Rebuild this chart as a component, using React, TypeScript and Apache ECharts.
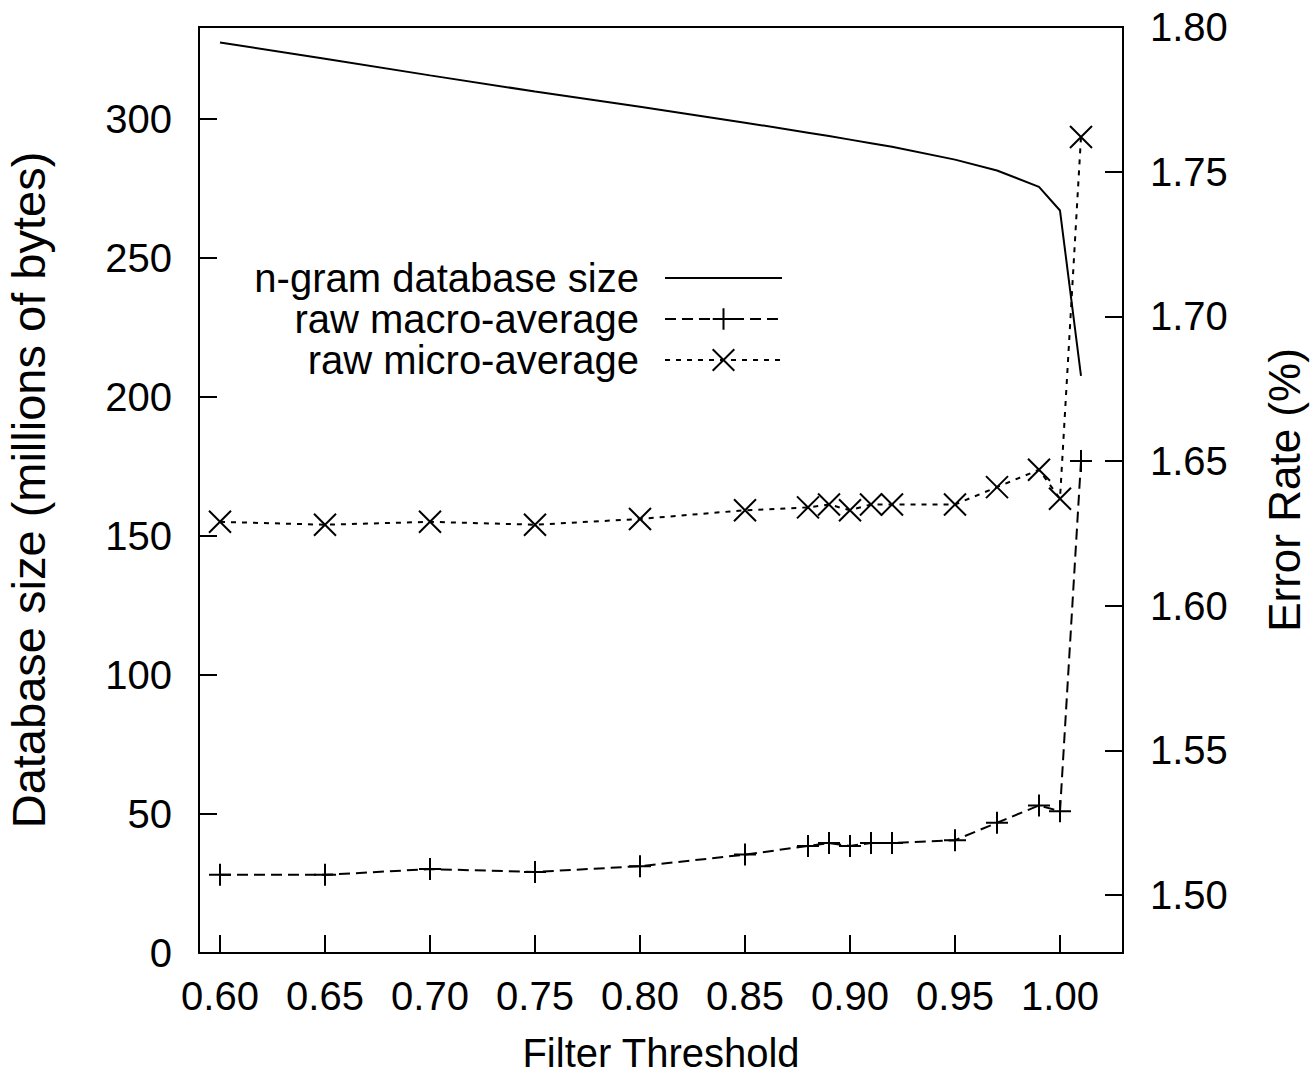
import React, { useEffect, useRef } from "react";
import * as echarts from "echarts";

const thresholds = [0.6, 0.65, 0.7, 0.75, 0.8, 0.85, 0.88, 0.89, 0.9, 0.91, 0.92, 0.95, 0.97, 0.99, 1.0, 1.01];
const ngramSize = [327.4, 321.6, 315.6, 309.8, 304.3, 298.6, 295.0, 293.8, 292.5, 291.2, 289.9, 285.3, 281.4, 275.5, 267.0, 207.5];
const macroAvg = [1.507, 1.507, 1.509, 1.508, 1.510, 1.514, 1.517, 1.518, 1.517, 1.518, 1.518, 1.519, 1.525, 1.531, 1.529, 1.650];
const microAvg = [1.629, 1.628, 1.629, 1.628, 1.630, 1.633, 1.634, 1.635, 1.633, 1.635, 1.635, 1.635, 1.641, 1.647, 1.637, 1.762];

const xTicks = [0.6, 0.65, 0.7, 0.75, 0.8, 0.85, 0.9, 0.95, 1.0];
const leftTicks = [0, 50, 100, 150, 200, 250, 300];
const rightTicks = [1.5, 1.55, 1.6, 1.65, 1.7, 1.75, 1.8];

const seriesNames = ["n-gram database size", "raw macro-average", "raw micro-average"];

const FONT = "Liberation Sans, Arial, Helvetica, sans-serif";
const PLUS = "path://M0,11L22,11M11,0L11,22";
const CROSS = "path://M0,0L22,22M22,0L0,22";

export default function App() {
  const ref = useRef<HTMLDivElement>(null);

  useEffect(() => {
    if (!ref.current) return;
    const chart = echarts.init(ref.current, null, { renderer: "svg" });
    const pair = (ys: number[]) => thresholds.map((x, i) => [x, ys[i]]);
    const tickStyle = { show: true, inside: true, length: 18, lineStyle: { color: "#000", width: 2 } };
    const labelStyle = { color: "#000", fontSize: 40, fontFamily: FONT };

    const legendBase = (name: string, top: number, hideSymbol = false) => ({
      data: [name],
      orient: "vertical",
      align: "right",
      right: 531,
      top,
      padding: 0,
      itemWidth: 117,
      itemHeight: 27,
      selectedMode: false,
      ...(hideSymbol ? { itemStyle: { color: "transparent", opacity: 0, borderWidth: 0 } } : {}),
      textStyle: { color: "#000", fontSize: 40, fontFamily: FONT, padding: [0, 21, 0, 0] },
    });

    chart.setOption({
      animation: false,
      backgroundColor: "#fff",
      grid: {
        left: 199,
        right: 191,
        top: 27,
        bottom: 121,
        outerBoundsMode: "none",
        containLabel: false,
        show: true,
        borderColor: "#000",
        borderWidth: 2,
        backgroundColor: "transparent",
      },
      legend: [
        legendBase(seriesNames[0], 258, true),
        legendBase(seriesNames[1], 299),
        legendBase(seriesNames[2], 340),
      ],
      xAxis: {
        type: "value",
        min: 0.59,
        max: 1.03,
        name: "Filter Threshold",
        nameLocation: "middle",
        nameGap: 80,
        nameTextStyle: { color: "#000", fontSize: 40, fontFamily: FONT },
        axisLine: { show: true, lineStyle: { color: "#000", width: 2 } },
        axisTick: { ...tickStyle, customValues: xTicks },
        axisLabel: {
          ...labelStyle,
          margin: 23,
          customValues: xTicks,
          formatter: (v: number) => v.toFixed(2),
        },
        splitLine: { show: false },
      },
      yAxis: [
        {
          type: "value",
          min: 0,
          max: 333,
          position: "left",
          name: "Database size (millions of bytes)",
          nameLocation: "middle",
          nameGap: 147,
          nameTextStyle: { color: "#000", fontSize: 47, fontFamily: FONT },
          axisLine: { show: true, lineStyle: { color: "#000", width: 2 } },
          axisTick: { ...tickStyle, customValues: leftTicks },
          axisLabel: { ...labelStyle, margin: 27, customValues: leftTicks, formatter: (v: number) => String(v) },
          splitLine: { show: false },
        },
        {
          type: "value",
          min: 1.48,
          max: 1.8,
          position: "right",
          name: "Error Rate (%)",
          nameLocation: "middle",
          nameGap: 139,
          nameTextStyle: { color: "#000", fontSize: 44, fontFamily: FONT },
          axisLine: { show: true, lineStyle: { color: "#000", width: 2 } },
          axisTick: { ...tickStyle, customValues: rightTicks },
          axisLabel: { ...labelStyle, margin: 27, customValues: rightTicks, formatter: (v: number) => v.toFixed(2) },
          splitLine: { show: false },
        },
      ],
      series: [
        {
          name: seriesNames[0],
          type: "line",
          yAxisIndex: 0,
          data: pair(ngramSize),
          symbol: "none",
          lineStyle: { color: "#000", width: 2, type: "solid" },
          itemStyle: { color: "#000" },
        },
        {
          name: seriesNames[1],
          type: "line",
          yAxisIndex: 1,
          data: pair(macroAvg),
          symbol: PLUS,
          symbolSize: 22,
          lineStyle: { color: "#000", width: 2, type: [11, 6] },
          itemStyle: { color: "transparent", borderColor: "#000", borderWidth: 2 },
        },
        {
          name: seriesNames[2],
          type: "line",
          yAxisIndex: 1,
          data: pair(microAvg),
          symbol: CROSS,
          symbolSize: 22,
          lineStyle: { color: "#000", width: 2, type: [5, 6] },
          itemStyle: { color: "transparent", borderColor: "#000", borderWidth: 2 },
        },
      ],
    });

    return () => chart.dispose();
  }, []);

  return (
    <div
      ref={ref}
      style={{ position: "fixed", left: 0, top: 0, width: 1314, height: 1074, background: "#fff" }}
    />
  );
}
